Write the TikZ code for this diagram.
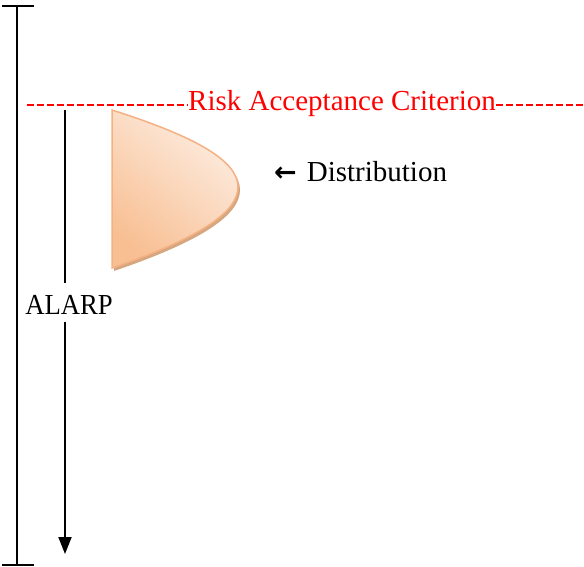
\documentclass[tikz,border=0pt]{standalone}
\usepackage{fontspec}
\setmainfont{Liberation Serif}
\newfontfamily\symfont{DejaVu Sans}
\usetikzlibrary{arrows.meta}
\definecolor{shapeedge}{HTML}{F4B183}
\definecolor{shapedark}{HTML}{F8BF93}
\definecolor{shapelight}{HTML}{FDEDE1}
\definecolor{shapeshadow}{HTML}{D6A67E}
\tikzset{
  axisline/.style={line width=2pt, black},
  riskline/.style={line width=2pt, red, dash pattern=on 7pt off 3pt},
  lbl/.style={inner sep=0pt, font=\fontsize{29}{32}\selectfont},
}
\begin{document}
\begin{tikzpicture}[x=1pt,y=-1pt]
\useasboundingbox (0,0) rectangle (584,567);
% left scale bar
\coordinate (barTop) at (17,6);
\coordinate (barBot) at (17,565);
\coordinate (tickTL) at (2,6);
\coordinate (tickTR) at (34,6);
\coordinate (tickBL) at (2,565);
\coordinate (tickBR) at (34,565);
\draw[axisline] (barTop) -- (barBot);
\draw[axisline] (tickTL) -- (tickTR);
\draw[axisline] (tickBL) -- (tickBR);
% risk acceptance criterion
\node[lbl, text=red] (rac) at (342,104) {Risk Acceptance Criterion};
\coordinate (racL) at (27,105);
\coordinate (racR) at (584,105);
\draw[riskline] (racL) -- (rac.west |- racL);
\draw[riskline] (rac.east |- racR) -- (racR);
% distribution shape
\begin{scope}[shift={(2,3)}]
\fill[shapeshadow] (112,110) .. controls (200,138) and (238,162) .. (238,187) .. controls (238,212) and (200,238) .. (112,268) -- cycle;
\end{scope}
\shade[left color=shapedark, right color=shapelight, shading angle=140, draw=shapeedge, line width=1.5pt]
  (112,110) .. controls (200,138) and (238,162) .. (238,187) .. controls (238,212) and (200,238) .. (112,268) -- cycle;
\node[lbl, anchor=west] (dist) at (274,172) {{\symfont\bfseries\fontsize{27}{29}\selectfont ←}\hspace{10pt}Distribution};
% ALARP arrow
\coordinate (alTop) at (65,110);
\coordinate (alTip) at (65,554);
\node[lbl] (alarp) at (69,305) {\scalebox{0.92}[1]{ALARP}};
\draw[axisline] (alTop) -- (65,283);
\draw[axisline, -{Triangle[length=17pt,width=13pt]}] (65,322) -- (alTip);
\end{tikzpicture}
\end{document}
